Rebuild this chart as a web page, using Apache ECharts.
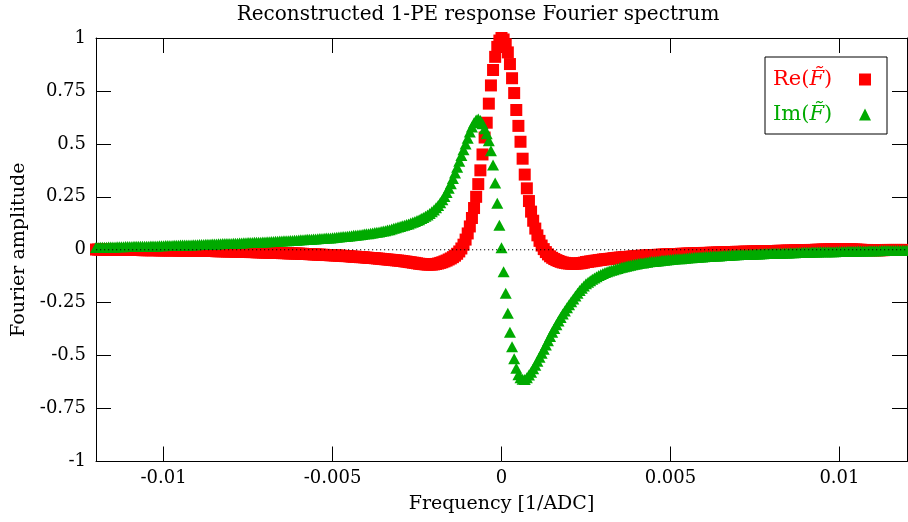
<!DOCTYPE html>
<html><head><meta charset="utf-8">
<script src="https://cdn.jsdelivr.net/npm/echarts@6/dist/echarts.min.js"></script>
<style>html,body{margin:0;padding:0;background:#fff}#chart{width:908px;height:522px}</style>
</head><body><div id="chart"></div>
<script>
// Uniform frequency sampling grid of the spectrum
const FREQ_START = -0.012;
const FREQ_STEP = 0.0000625;

// Re(F~) values, left to right
const reValues = [
0.001,0.001,0.001,0.001,0.001,0,0,0,0,0,0,0,0,-0.001,-0.001,-0.001,
-0.001,-0.001,-0.001,-0.001,-0.001,-0.001,-0.002,-0.002,-0.002,-0.002,-0.002,-0.002,-0.002,-0.002,-0.003,-0.003,
-0.003,-0.003,-0.003,-0.003,-0.003,-0.003,-0.003,-0.004,-0.004,-0.004,-0.004,-0.004,-0.004,-0.004,-0.005,-0.005,
-0.005,-0.005,-0.005,-0.005,-0.006,-0.006,-0.006,-0.006,-0.006,-0.007,-0.007,-0.007,-0.007,-0.007,-0.008,-0.008,
-0.008,-0.008,-0.009,-0.009,-0.009,-0.010,-0.010,-0.010,-0.010,-0.011,-0.011,-0.011,-0.012,-0.012,-0.012,-0.013,
-0.013,-0.013,-0.014,-0.014,-0.014,-0.015,-0.015,-0.015,-0.016,-0.016,-0.016,-0.017,-0.017,-0.017,-0.018,-0.018,
-0.018,-0.019,-0.019,-0.020,-0.020,-0.021,-0.021,-0.022,-0.022,-0.023,-0.023,-0.024,-0.024,-0.025,-0.025,-0.026,
-0.026,-0.027,-0.027,-0.028,-0.028,-0.029,-0.030,-0.030,
-0.031,-0.032,-0.033,-0.033,-0.034,-0.035,-0.035,-0.036,
-0.037,-0.038,-0.039,-0.039,-0.040,-0.041,-0.042,-0.043,
-0.044,-0.045,-0.046,-0.047,-0.048,-0.049,-0.050,-0.051,
-0.052,-0.053,-0.055,-0.056,-0.058,-0.059,-0.061,-0.062,
-0.064,-0.066,-0.067,-0.068,-0.069,-0.070,-0.070,-0.070,-0.069,-0.067,-0.065,-0.062,-0.059,-0.055,-0.051,-0.046,-0.041,-0.035,-0.028,-0.019,
-0.008,0.006,0.024,0.048,0.077,0.110,0.150,0.197,0.250,0.310,0.375,0.450,0.530,0.600,0.690,0.776,0.849,0.911,0.958,0.988,
1.000,
0.993,0.970,0.932,0.877,0.810,0.740,0.660,0.585,0.510,0.430,0.355,0.290,0.230,0.180,0.137,0.100,0.068,0.042,0.020,0.003,
-0.011,-0.022,-0.031,-0.038,-0.044,-0.049,-0.053,-0.057,-0.060,-0.062,-0.064,-0.065,-0.066,-0.066,-0.066,-0.065,-0.064,-0.063,-0.061,-0.058,
-0.057,-0.055,-0.054,-0.052,-0.051,-0.049,-0.048,-0.046,
-0.045,-0.044,-0.043,-0.042,-0.040,-0.039,-0.038,-0.037,
-0.036,-0.035,-0.034,-0.034,-0.033,-0.032,-0.031,-0.030,
-0.029,-0.029,-0.028,-0.028,-0.027,-0.026,-0.026,-0.025,
-0.025,-0.024,-0.024,-0.023,-0.023,-0.022,-0.022,-0.021,
-0.021,-0.020,-0.020,-0.020,-0.019,-0.019,-0.019,-0.018,-0.018,-0.018,-0.017,-0.017,-0.016,-0.016,-0.016,-0.015,
-0.015,-0.015,-0.014,-0.014,-0.014,-0.013,-0.013,-0.013,-0.012,-0.012,-0.012,-0.011,-0.011,-0.011,-0.010,-0.010,
-0.010,-0.010,-0.009,-0.009,-0.009,-0.009,-0.008,-0.008,-0.008,-0.008,-0.007,-0.007,-0.007,-0.007,-0.006,-0.006,
-0.006,-0.006,-0.005,-0.005,-0.005,-0.005,-0.004,-0.004,-0.004,-0.004,-0.003,-0.003,-0.003,-0.003,-0.002,-0.002,
-0.002,-0.001,-0.001,-0.001,0.000,0.000,0.000,0.001,0.001,0.001,0.002,0.002,0.002,0.003,0.003,0.003,
0.003,0.003,0.003,0.002,0.002,0.002,0.001,0.001,0.000,0.000,-0.001,-0.001,-0.001,-0.002,-0.002,-0.002,
-0.002,-0.002,-0.002,-0.002,-0.002,-0.001,-0.001,-0.001,-0.001,-0.001,-0.001,-0.001,-0.001,-0.001,-0.001,-0.001
];

// Im(F~) values, left to right
const imValues = [
0.011,0.011,0.012,0.012,0.012,0.012,0.013,0.013,0.013,0.013,0.014,0.014,0.014,0.014,0.015,0.015,
0.015,0.015,0.016,0.016,0.016,0.016,0.017,0.017,0.017,0.017,0.018,0.018,0.018,0.018,0.019,0.019,
0.019,0.020,0.020,0.020,0.020,0.021,0.021,0.021,0.022,0.022,0.022,0.023,0.023,0.023,0.024,0.024,
0.024,0.025,0.025,0.025,0.026,0.026,0.026,0.027,0.027,0.027,0.028,0.028,0.029,0.029,0.029,0.030,
0.030,0.031,0.031,0.031,0.032,0.032,0.033,0.033,0.034,0.034,0.034,0.035,0.035,0.036,0.036,0.037,
0.037,0.038,0.038,0.039,0.039,0.040,0.040,0.041,0.041,0.042,0.043,0.043,0.044,0.044,0.045,0.045,
0.046,0.047,0.047,0.048,0.049,0.049,0.050,0.051,0.051,0.052,0.053,0.053,0.054,0.055,0.055,0.056,
0.057,0.058,0.059,0.060,0.061,0.062,0.063,0.064,
0.065,0.066,0.068,0.069,0.070,0.071,0.072,0.074,
0.075,0.076,0.078,0.079,0.081,0.083,0.084,0.086,
0.088,0.090,0.093,0.095,0.098,0.101,0.104,0.107,
0.110,0.113,0.116,0.119,0.122,0.126,0.130,0.134,
0.138,0.142,0.147,0.152,0.158,0.164,0.171,0.179,0.188,0.198,0.209,0.222,0.236,0.252,0.270,0.290,0.312,0.337,0.363,0.390,
0.418,0.445,0.472,0.499,0.527,0.556,0.580,0.600,0.613,0.618,0.610,0.595,0.572,0.548,0.515,0.468,0.400,0.315,0.220,0.116,
0.010,
-0.104,-0.206,-0.300,-0.390,-0.458,-0.515,-0.560,-0.590,-0.605,-0.612,-0.613,-0.605,-0.592,-0.578,-0.562,-0.545,-0.527,-0.508,-0.489,-0.470,
-0.450,-0.430,-0.410,-0.390,-0.372,-0.354,-0.337,-0.320,-0.304,-0.289,-0.274,-0.260,-0.246,-0.232,-0.218,-0.205,-0.193,-0.182,-0.171,-0.161,
-0.153,-0.146,-0.139,-0.133,-0.127,-0.122,-0.117,-0.112,
-0.108,-0.104,-0.100,-0.097,-0.094,-0.091,-0.088,-0.085,
-0.083,-0.080,-0.078,-0.075,-0.073,-0.071,-0.069,-0.067,
-0.065,-0.063,-0.062,-0.060,-0.059,-0.057,-0.056,-0.055,
-0.054,-0.053,-0.052,-0.050,-0.049,-0.048,-0.047,-0.046,
-0.045,-0.044,-0.043,-0.043,-0.042,-0.041,-0.040,-0.039,-0.038,-0.038,-0.037,-0.036,-0.035,-0.034,-0.034,-0.033,
-0.032,-0.032,-0.031,-0.030,-0.030,-0.029,-0.029,-0.028,-0.027,-0.027,-0.026,-0.026,-0.025,-0.025,-0.024,-0.024,
-0.023,-0.023,-0.022,-0.022,-0.022,-0.021,-0.021,-0.020,-0.020,-0.020,-0.019,-0.019,-0.018,-0.018,-0.018,-0.017,
-0.017,-0.017,-0.016,-0.016,-0.016,-0.015,-0.015,-0.015,-0.014,-0.014,-0.014,-0.013,-0.013,-0.013,-0.012,-0.012,
-0.012,-0.012,-0.011,-0.011,-0.011,-0.011,-0.010,-0.010,-0.010,-0.010,-0.009,-0.009,-0.009,-0.009,-0.008,-0.008,
-0.008,-0.008,-0.008,-0.007,-0.007,-0.007,-0.007,-0.007,-0.006,-0.006,-0.006,-0.006,-0.006,-0.005,-0.005,-0.005,
-0.005,-0.005,-0.005,-0.004,-0.004,-0.004,-0.004,-0.004,-0.003,-0.003,-0.003,-0.003,-0.003,-0.002,-0.002,-0.002
];

const xTickValues = [-0.01, -0.005, 0, 0.005, 0.01];
const xTickLabels = ['-0.01', '-0.005', '0', '0.005', '0.01'];
const yTickValues = [-1, -0.75, -0.5, -0.25, 0, 0.25, 0.5, 0.75, 1];
const yTickLabels = ['-1', '-0.75', '-0.5', '-0.25', '0', '0.25', '0.5', '0.75', '1'];
const seriesNames = ['Re(F\u0303)', 'Im(F\u0303)'];
const seriesColors = ['#ff0000', '#00aa00'];

const FONT = 'DejaVu Serif';
const X_MIN = -0.012, X_MAX = 0.012;
const LEGEND_FONT = 21;
const LEGEND_TEXT_BOX = 81;

function tickLabel(values, labels, v) {
  for (let i = 0; i < values.length; i++) if (Math.abs(values[i] - v) < 1e-9) return labels[i];
  return '';
}

// measure legend label width so the legend icons line up on the right
const mctx = document.createElement('canvas').getContext('2d');
function labelWidth(name) {
  const p = name.split('F\u0303');
  mctx.font = LEGEND_FONT + 'px "' + FONT + '"';
  let w = mctx.measureText(p[0]).width + mctx.measureText(p[1]).width;
  mctx.font = 'italic ' + LEGEND_FONT + 'px "' + FONT + '"';
  w += mctx.measureText('F\u0303').width;
  return w;
}
const legendRich = {
  n: { fontFamily: FONT, fontSize: LEGEND_FONT, height: 24 },
  i: { fontFamily: FONT, fontSize: LEGEND_FONT, fontStyle: 'italic', height: 24 }
};
seriesNames.forEach((nm, idx) => {
  legendRich['g' + idx] = { fontFamily: FONT, fontSize: LEGEND_FONT, height: 24,
    width: Math.max(1, LEGEND_TEXT_BOX - labelWidth(nm)) };
});

const reData = reValues.map((v, i) => [FREQ_START + i * FREQ_STEP, v]);
const imData = imValues.map((v, i) => [FREQ_START + i * FREQ_STEP, v]);

const chart = echarts.init(document.getElementById('chart'), null, { renderer: 'canvas' });
const axisLine = { show: true, onZero: false, lineStyle: { color: '#000', width: 1 } };
const tickStyle = { color: '#000', width: 1 };

const option = {
  animation: false,
  backgroundColor: '#fff',
  title: {
    text: 'Reconstructed 1-PE response Fourier spectrum',
    left: 473, top: 0, textAlign: 'center',
    textStyle: { fontFamily: FONT, fontWeight: 'normal', fontSize: 20, color: '#000' }
  },
  grid: { left: 96, right: 1, top: 38, bottom: 60.5 },
  legend: {
    orient: 'vertical', left: 765, top: 57, align: 'right',
    padding: [12, 16, 9, 8], itemGap: 14, itemWidth: 12, itemHeight: 12,
    borderColor: '#000', borderWidth: 1,
    data: [
      { name: seriesNames[0], icon: 'rect', textStyle: { color: seriesColors[0] } },
      { name: seriesNames[1], icon: 'triangle', textStyle: { color: seriesColors[1] } }
    ],
    formatter: function (name) {
      const p = name.split('F\u0303');
      const idx = seriesNames.indexOf(name);
      return '{n|' + p[0] + '}{i|F\u0303}{n|' + p[1] + '}{g' + idx + '| }';
    },
    textStyle: { fontFamily: FONT, fontSize: LEGEND_FONT, rich: legendRich }
  },
  xAxis: [
    {
      type: 'value', min: X_MIN, max: X_MAX, position: 'bottom',
      axisLine: axisLine,
      axisTick: { inside: true, length: 15, customValues: xTickValues, lineStyle: tickStyle },
      axisLabel: { customValues: xTickValues, formatter: v => tickLabel(xTickValues, xTickLabels, v),
        fontFamily: FONT, fontSize: 18, color: '#000', margin: 8 },
      splitLine: { show: false },
      name: 'Frequency [1/ADC]', nameLocation: 'middle', nameGap: 33,
      nameTextStyle: { fontFamily: FONT, fontSize: 19, color: '#000' }
    },
    {
      type: 'value', min: X_MIN, max: X_MAX, position: 'top',
      axisLine: axisLine,
      axisTick: { inside: true, length: 15, customValues: xTickValues, lineStyle: tickStyle },
      axisLabel: { show: false }, splitLine: { show: false }
    }
  ],
  yAxis: [
    {
      type: 'value', min: -1, max: 1, interval: 0.25, position: 'left',
      axisLine: axisLine,
      axisTick: { inside: true, length: 15, lineStyle: tickStyle },
      axisLabel: { formatter: v => tickLabel(yTickValues, yTickLabels, v),
        fontFamily: FONT, fontSize: 18, color: '#000', margin: 10 },
      splitLine: { show: false },
      name: 'Fourier amplitude', nameLocation: 'middle', nameGap: 64, nameRotate: 90,
      nameTextStyle: { fontFamily: FONT, fontSize: 19, color: '#000' }
    },
    {
      type: 'value', min: -1, max: 1, interval: 0.25, position: 'right',
      axisLine: axisLine,
      axisTick: { inside: true, length: 15, lineStyle: tickStyle },
      axisLabel: { show: false }, splitLine: { show: false }
    }
  ],
  series: [
    {
      name: seriesNames[0], type: 'scatter', symbol: 'rect', symbolSize: [12, 12],
      itemStyle: { color: seriesColors[0], opacity: 1 }, data: reData, z: 2, silent: true
    },
    {
      name: seriesNames[1], type: 'scatter', symbol: 'triangle', symbolSize: [12, 11],
      itemStyle: { color: seriesColors[1], opacity: 1 }, data: imData, z: 3, silent: true
    },
    {
      name: 'zero', type: 'line', data: [[X_MIN, 0], [X_MAX, 0]], symbol: 'none', silent: true,
      lineStyle: { color: '#000', width: 1, type: [1.2, 2.8] }, z: 5
    }
  ]
};
chart.setOption(option);
</script>
</body></html>
